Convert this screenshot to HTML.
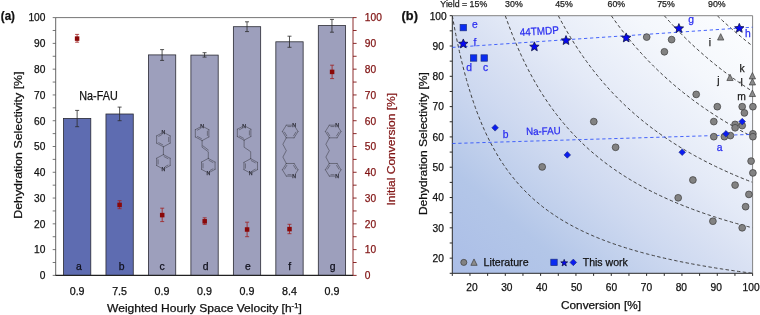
<!DOCTYPE html>
<html><head><meta charset="utf-8"><title>Figure</title>
<style>
html,body{margin:0;padding:0;background:#fff;}
body{width:760px;height:315px;overflow:hidden;}
svg{display:block;}
text{font-family:"Liberation Sans", Arial, sans-serif;stroke-width:0.25px;}
</style></head><body>
<svg width="760" height="315" viewBox="0 0 760 315">
<defs><linearGradient id="bg" x1="0" y1="1" x2="1" y2="0"><stop offset="0" stop-color="rgb(171,190,231)"/><stop offset="0.2" stop-color="rgb(179,198,232)"/><stop offset="0.3" stop-color="rgb(193,208,236)"/><stop offset="0.4" stop-color="rgb(206,217,240)"/><stop offset="0.5" stop-color="rgb(217,225,243)"/><stop offset="0.6" stop-color="rgb(228,234,247)"/><stop offset="0.8" stop-color="rgb(244,247,252)"/><stop offset="1.0" stop-color="rgb(253,254,255)"/></linearGradient></defs>
<rect width="760" height="315" fill="#fff"/>
<rect x="63.49" y="118.40" width="27.3" height="157.00" fill="#5e6cb1" stroke="#2a2a33" stroke-width="0.8"/>
<rect x="105.96" y="114.00" width="27.3" height="161.40" fill="#5e6cb1" stroke="#2a2a33" stroke-width="0.8"/>
<rect x="148.43" y="54.90" width="27.3" height="220.50" fill="#9d9fbc" stroke="#2a2a33" stroke-width="0.8"/>
<rect x="190.90" y="55.10" width="27.3" height="220.30" fill="#9d9fbc" stroke="#2a2a33" stroke-width="0.8"/>
<rect x="233.37" y="26.70" width="27.3" height="248.70" fill="#9d9fbc" stroke="#2a2a33" stroke-width="0.8"/>
<rect x="275.84" y="41.80" width="27.3" height="233.60" fill="#9d9fbc" stroke="#2a2a33" stroke-width="0.8"/>
<rect x="318.31" y="25.60" width="27.3" height="249.80" fill="#9d9fbc" stroke="#2a2a33" stroke-width="0.8"/>
<path d="M55.7 17.6H353.0" stroke="#666" stroke-width="0.9" fill="none"/>
<path d="M55.7 17.6V275.4" stroke="#555" stroke-width="0.9" fill="none"/>
<path d="M55.300000000000004 275.4H353.0" stroke="#222" stroke-width="1.1" fill="none"/>
<path d="M52.70 275.40H55.70M52.70 262.51H55.70M52.70 249.62H55.70M52.70 236.73H55.70M52.70 223.84H55.70M52.70 210.95H55.70M52.70 198.06H55.70M52.70 185.17H55.70M52.70 172.28H55.70M52.70 159.39H55.70M52.70 146.50H55.70M52.70 133.61H55.70M52.70 120.72H55.70M52.70 107.83H55.70M52.70 94.94H55.70M52.70 82.05H55.70M52.70 69.16H55.70M52.70 56.27H55.70M52.70 43.38H55.70M52.70 30.49H55.70M52.70 17.60H55.70" stroke="#555" stroke-width="0.8" fill="none"/>
<path d="M353.0 17.6V275.4M353.00 275.40h3.6M353.00 262.51h3.6M353.00 249.62h3.6M353.00 236.73h3.6M353.00 223.84h3.6M353.00 210.95h3.6M353.00 198.06h3.6M353.00 185.17h3.6M353.00 172.28h3.6M353.00 159.39h3.6M353.00 146.50h3.6M353.00 133.61h3.6M353.00 120.72h3.6M353.00 107.83h3.6M353.00 94.94h3.6M353.00 82.05h3.6M353.00 69.16h3.6M353.00 56.27h3.6M353.00 43.38h3.6M353.00 30.49h3.6M353.00 17.60h3.6" stroke="#801414" stroke-width="0.9" fill="none"/>
<path d="M77.14 110.40V126.70M75.14 110.40h4M75.14 126.70h4M119.61 107.10V120.70M117.61 107.10h4M117.61 120.70h4M162.08 49.60V60.40M160.08 49.60h4M160.08 60.40h4M204.55 52.70V57.10M202.55 52.70h4M202.55 57.10h4M247.02 21.80V31.60M245.02 21.80h4M245.02 31.60h4M289.49 36.20V47.30M287.49 36.20h4M287.49 47.30h4M331.96 19.40V32.20M329.96 19.40h4M329.96 32.20h4" stroke="#2b2b2b" stroke-width="0.8" fill="none"/>
<path d="M77.10 34.40V42.20M75.10 34.40h4M75.10 42.20h4M119.60 200.70V208.70M117.60 200.70h4M117.60 208.70h4M162.20 208.20V221.60M160.20 208.20h4M160.20 221.60h4M204.70 217.80V224.40M202.70 217.80h4M202.70 224.40h4M247.10 222.20V236.70M245.10 222.20h4M245.10 236.70h4M289.50 224.30V233.70M287.50 224.30h4M287.50 233.70h4M332.10 65.20V78.60M330.10 65.20h4M330.10 78.60h4" stroke="#a02020" stroke-width="0.8" fill="none"/>
<rect x="74.85" y="36.35" width="4.5" height="4.5" fill="#8a0808"/>
<rect x="117.35" y="202.65" width="4.5" height="4.5" fill="#8a0808"/>
<rect x="159.95" y="212.85" width="4.5" height="4.5" fill="#8a0808"/>
<rect x="202.45" y="219.05" width="4.5" height="4.5" fill="#8a0808"/>
<rect x="244.85" y="227.25" width="4.5" height="4.5" fill="#8a0808"/>
<rect x="287.25" y="226.85" width="4.5" height="4.5" fill="#8a0808"/>
<rect x="329.85" y="69.65" width="4.5" height="4.5" fill="#8a0808"/>
<text x="45.40" y="279.20" font-size="10.2" fill="#111" stroke="#111" text-anchor="end">0</text>
<text x="364.80" y="279.20" font-size="10.2" fill="#801414" stroke="#801414">0</text>
<text x="45.40" y="253.42" font-size="10.2" fill="#111" stroke="#111" text-anchor="end">10</text>
<text x="364.80" y="253.42" font-size="10.2" fill="#801414" stroke="#801414">10</text>
<text x="45.40" y="227.64" font-size="10.2" fill="#111" stroke="#111" text-anchor="end">20</text>
<text x="364.80" y="227.64" font-size="10.2" fill="#801414" stroke="#801414">20</text>
<text x="45.40" y="201.86" font-size="10.2" fill="#111" stroke="#111" text-anchor="end">30</text>
<text x="364.80" y="201.86" font-size="10.2" fill="#801414" stroke="#801414">30</text>
<text x="45.40" y="176.08" font-size="10.2" fill="#111" stroke="#111" text-anchor="end">40</text>
<text x="364.80" y="176.08" font-size="10.2" fill="#801414" stroke="#801414">40</text>
<text x="45.40" y="150.30" font-size="10.2" fill="#111" stroke="#111" text-anchor="end">50</text>
<text x="364.80" y="150.30" font-size="10.2" fill="#801414" stroke="#801414">50</text>
<text x="45.40" y="124.52" font-size="10.2" fill="#111" stroke="#111" text-anchor="end">60</text>
<text x="364.80" y="124.52" font-size="10.2" fill="#801414" stroke="#801414">60</text>
<text x="45.40" y="98.74" font-size="10.2" fill="#111" stroke="#111" text-anchor="end">70</text>
<text x="364.80" y="98.74" font-size="10.2" fill="#801414" stroke="#801414">70</text>
<text x="45.40" y="72.96" font-size="10.2" fill="#111" stroke="#111" text-anchor="end">80</text>
<text x="364.80" y="72.96" font-size="10.2" fill="#801414" stroke="#801414">80</text>
<text x="45.40" y="47.18" font-size="10.2" fill="#111" stroke="#111" text-anchor="end">90</text>
<text x="364.80" y="47.18" font-size="10.2" fill="#801414" stroke="#801414">90</text>
<text x="45.40" y="21.40" font-size="10.2" fill="#111" stroke="#111" text-anchor="end">100</text>
<text x="364.80" y="21.40" font-size="10.2" fill="#801414" stroke="#801414">100</text>
<text x="79.00" y="269.80" font-size="10.4" fill="#10101c" stroke="#10101c" text-anchor="middle">a</text>
<text x="121.70" y="269.80" font-size="10.4" fill="#10101c" stroke="#10101c" text-anchor="middle">b</text>
<text x="162.00" y="269.80" font-size="10.4" fill="#10101c" stroke="#10101c" text-anchor="middle">c</text>
<text x="205.70" y="269.80" font-size="10.4" fill="#10101c" stroke="#10101c" text-anchor="middle">d</text>
<text x="247.90" y="269.80" font-size="10.4" fill="#10101c" stroke="#10101c" text-anchor="middle">e</text>
<text x="289.60" y="269.80" font-size="10.4" fill="#10101c" stroke="#10101c" text-anchor="middle">f</text>
<text x="332.70" y="269.80" font-size="10.4" fill="#10101c" stroke="#10101c" text-anchor="middle">g</text>
<text x="77.14" y="294.60" font-size="10.1" fill="#111" stroke="#111" text-anchor="middle" textLength="14.90" lengthAdjust="spacingAndGlyphs">0.9</text>
<text x="119.61" y="294.60" font-size="10.1" fill="#111" stroke="#111" text-anchor="middle" textLength="14.90" lengthAdjust="spacingAndGlyphs">7.5</text>
<text x="162.08" y="294.60" font-size="10.1" fill="#111" stroke="#111" text-anchor="middle" textLength="14.90" lengthAdjust="spacingAndGlyphs">0.9</text>
<text x="204.55" y="294.60" font-size="10.1" fill="#111" stroke="#111" text-anchor="middle" textLength="14.90" lengthAdjust="spacingAndGlyphs">0.9</text>
<text x="247.02" y="294.60" font-size="10.1" fill="#111" stroke="#111" text-anchor="middle" textLength="14.90" lengthAdjust="spacingAndGlyphs">0.9</text>
<text x="289.49" y="294.60" font-size="10.1" fill="#111" stroke="#111" text-anchor="middle" textLength="14.90" lengthAdjust="spacingAndGlyphs">8.4</text>
<text x="331.96" y="294.60" font-size="10.1" fill="#111" stroke="#111" text-anchor="middle" textLength="14.90" lengthAdjust="spacingAndGlyphs">0.9</text>
<text x="107.1" y="312.1" font-size="11" fill="#111" stroke="#111" textLength="194.7" lengthAdjust="spacingAndGlyphs">Weighted Hourly Space Velocity [h<tspan font-size="7" dy="-4">-1</tspan><tspan dy="4">]</tspan></text>
<text x="22.20" y="218.80" font-size="10.9" fill="#111" stroke="#111" textLength="147.40" lengthAdjust="spacingAndGlyphs" transform="rotate(-90 22.20 218.80)">Dehydration Selectivity [%]</text>
<text x="394.60" y="205.60" font-size="10.8" fill="#801414" stroke="#801414" textLength="112.70" lengthAdjust="spacingAndGlyphs" transform="rotate(-90 394.60 205.60)">Initial Conversion [%]</text>
<text x="0.80" y="20.20" font-size="12.4" fill="#111" stroke="#111" font-weight="bold" textLength="14.20" lengthAdjust="spacingAndGlyphs">(a)</text>
<text x="79.30" y="100.00" font-size="12.0" fill="#111" stroke="#111" textLength="38.40" lengthAdjust="spacingAndGlyphs">Na-FAU</text>
<path d="M165.56 133.37L170.16 135.85M170.16 135.85L170.16 143.15M168.68 137.34L168.68 141.66M170.16 143.15L163.40 146.80M163.40 146.80L156.64 143.15M162.77 144.85L158.76 142.69M156.64 143.15L156.64 135.85M156.64 135.85L161.24 133.37M158.76 136.31L161.55 134.80M161.24 168.03L156.64 165.55M156.64 165.55L156.64 158.25M158.12 164.06L158.12 159.74M156.64 158.25L163.40 154.60M163.40 154.60L170.16 158.25M164.03 156.55L168.04 158.71M170.16 158.25L170.16 165.55M170.16 165.55L165.56 168.03M168.04 165.09L165.25 166.60M163.40 146.80L163.40 154.60" stroke="#3c3c46" stroke-width="0.55" fill="none" stroke-linecap="round"/>
<text x="163.40" y="134.10" font-size="5.2" fill="#2a2a33" stroke="#2a2a33" text-anchor="middle" stroke-width="0">N</text>
<text x="163.40" y="171.10" font-size="5.2" fill="#2a2a33" stroke="#2a2a33" text-anchor="middle" stroke-width="0">N</text>
<path d="M204.26 127.17L208.86 129.65M208.86 129.65L208.86 136.95M207.38 131.14L207.38 135.46M208.86 136.95L202.10 140.60M202.10 140.60L195.34 136.95M201.47 138.65L197.46 136.49M195.34 136.95L195.34 129.65M195.34 129.65L199.94 127.17M197.46 130.11L200.25 128.60M206.14 171.83L201.54 169.35M201.54 169.35L201.54 162.05M203.02 167.86L203.02 163.54M201.54 162.05L208.30 158.40M208.30 158.40L215.06 162.05M208.93 160.35L212.94 162.51M215.06 162.05L215.06 169.35M215.06 169.35L210.46 171.83M212.94 168.89L210.15 170.40M202.10 140.60L202.10 147.20L208.30 151.80L208.30 158.40M202.90 145.80L208.30 150.00" stroke="#3c3c46" stroke-width="0.55" fill="none" stroke-linecap="round"/>
<text x="202.10" y="127.90" font-size="5.2" fill="#2a2a33" stroke="#2a2a33" text-anchor="middle" stroke-width="0">N</text>
<text x="208.30" y="174.90" font-size="5.2" fill="#2a2a33" stroke="#2a2a33" text-anchor="middle" stroke-width="0">N</text>
<path d="M246.26 126.77L250.86 129.25M250.86 129.25L250.86 136.55M249.38 130.74L249.38 135.06M250.86 136.55L244.10 140.20M244.10 140.20L237.34 136.55M243.47 138.25L239.46 136.09M237.34 136.55L237.34 129.25M237.34 129.25L241.94 126.77M239.46 129.71L242.25 128.20M248.54 172.13L243.94 169.65M243.94 169.65L243.94 162.35M245.42 168.16L245.42 163.84M243.94 162.35L250.70 158.70M250.70 158.70L257.46 162.35M251.33 160.65L255.34 162.81M257.46 162.35L257.46 169.65M257.46 169.65L252.86 172.13M255.34 169.19L252.55 170.70M244.10 140.20L244.10 147.20L250.70 151.70L250.70 158.70" stroke="#3c3c46" stroke-width="0.55" fill="none" stroke-linecap="round"/>
<text x="244.10" y="127.50" font-size="5.2" fill="#2a2a33" stroke="#2a2a33" text-anchor="middle" stroke-width="0">N</text>
<text x="250.70" y="175.20" font-size="5.2" fill="#2a2a33" stroke="#2a2a33" text-anchor="middle" stroke-width="0">N</text>
<path d="M298.01 131.50L294.11 137.82M295.93 132.09L293.61 135.84M294.11 137.82L286.29 137.82M286.29 137.82L282.39 131.50M286.79 135.84L284.47 132.09M282.39 131.50L286.29 125.18M286.29 125.18L291.61 125.18M287.88 126.57L291.11 126.57M295.36 127.20L298.01 131.50M298.01 169.80L295.36 174.10M291.61 176.12L286.29 176.12M291.11 174.73L287.88 174.73M286.29 176.12L282.39 169.80M282.39 169.80L286.29 163.48M284.47 169.21L286.79 165.46M286.29 163.48L294.11 163.48M294.11 163.48L298.01 169.80M293.61 165.46L295.93 169.21M286.29 137.82L282.89 144.24L286.29 150.65L282.89 157.06L286.29 163.48" stroke="#3c3c46" stroke-width="0.55" fill="none" stroke-linecap="round"/>
<text x="294.11" y="127.08" font-size="5.2" fill="#2a2a33" stroke="#2a2a33" text-anchor="middle" stroke-width="0">N</text>
<text x="294.11" y="178.02" font-size="5.2" fill="#2a2a33" stroke="#2a2a33" text-anchor="middle" stroke-width="0">N</text>
<path d="M341.01 131.50L337.11 137.82M338.93 132.09L336.61 135.84M337.11 137.82L329.29 137.82M329.29 137.82L325.39 131.50M329.79 135.84L327.47 132.09M325.39 131.50L329.29 125.18M329.29 125.18L334.61 125.18M330.88 126.57L334.11 126.57M338.36 127.20L341.01 131.50M341.01 169.80L338.36 174.10M334.61 176.12L329.29 176.12M334.11 174.73L330.88 174.73M329.29 176.12L325.39 169.80M325.39 169.80L329.29 163.48M327.47 169.21L329.79 165.46M329.29 163.48L337.11 163.48M337.11 163.48L341.01 169.80M336.61 165.46L338.93 169.21M329.29 137.82L325.89 144.24L329.29 150.65L325.89 157.06L329.29 163.48" stroke="#3c3c46" stroke-width="0.55" fill="none" stroke-linecap="round"/>
<text x="337.11" y="127.08" font-size="5.2" fill="#2a2a33" stroke="#2a2a33" text-anchor="middle" stroke-width="0">N</text>
<text x="337.11" y="178.02" font-size="5.2" fill="#2a2a33" stroke="#2a2a33" text-anchor="middle" stroke-width="0">N</text>
<rect x="452.3" y="15.7" width="300.30" height="257.60" fill="url(#bg)"/>
<clipPath id="cp"><rect x="452.3" y="15.7" width="300.30" height="257.60"/></clipPath>
<path d="M452.30 15.70L454.07 25.48L455.83 34.64L457.60 43.25L459.37 51.35L461.13 58.99L462.90 66.21L464.67 73.04L466.43 79.50L468.20 85.64L469.96 91.46L471.73 97.01L473.50 102.29L475.26 107.32L477.03 112.13L478.80 116.72L480.56 121.11L482.33 125.32L484.10 129.35L485.86 133.21L487.63 136.92L489.40 140.49L491.16 143.92L492.93 147.22L494.70 150.39L496.46 153.45L498.23 156.41L499.99 159.25L501.76 162.00L503.53 164.66L505.29 167.23L507.06 169.71L508.83 172.12L510.59 174.45L512.36 176.70L514.13 178.89L515.89 181.00L517.66 183.06L519.43 185.06L521.19 186.99L522.96 188.88L524.73 190.71L526.49 192.48L528.26 194.21L530.02 195.90L531.79 197.54L533.56 199.13L535.32 200.68L537.09 202.20L538.86 203.67L540.62 205.11L542.39 206.51L544.16 207.88L545.92 209.22L547.69 210.52L549.46 211.80L551.22 213.04L552.99 214.26L554.76 215.44L556.52 216.60L558.29 217.74L560.05 218.85L561.82 219.94L563.59 221.00L565.35 222.04L567.12 223.06L568.89 224.05L570.65 225.03L572.42 225.99L574.19 226.92L575.95 227.84L577.72 228.74L579.49 229.62L581.25 230.49L583.02 231.34L584.79 232.17L586.55 232.99L588.32 233.79L590.08 234.58L591.85 235.35L593.62 236.11L595.38 236.85L597.15 237.58L598.92 238.30L600.68 239.01L602.45 239.70L604.22 240.38L605.98 241.05L607.75 241.71L609.52 242.36L611.28 242.99L613.05 243.62L614.82 244.24L616.58 244.84L618.35 245.44L620.11 246.02L621.88 246.60L623.65 247.17L625.41 247.73L627.18 248.28L628.95 248.82L630.71 249.36L632.48 249.88L634.25 250.40L636.01 250.91L637.78 251.41L639.55 251.91L641.31 252.40L643.08 252.88L644.85 253.35L646.61 253.82L648.38 254.28L650.14 254.73L651.91 255.18L653.68 255.62L655.44 256.06L657.21 256.49L658.98 256.91L660.74 257.33L662.51 257.74L664.28 258.15L666.04 258.55L667.81 258.94L669.58 259.34L671.34 259.72L673.11 260.10L674.88 260.48L676.64 260.85L678.41 261.22L680.17 261.58L681.94 261.94L683.71 262.29L685.47 262.64L687.24 262.98L689.01 263.32L690.77 263.66L692.54 263.99L694.31 264.32L696.07 264.64L697.84 264.96L699.61 265.28L701.37 265.59L703.14 265.90L704.91 266.21L706.67 266.51L708.44 266.81L710.20 267.10L711.97 267.39L713.74 267.68L715.50 267.97L717.27 268.25L719.04 268.53L720.80 268.80L722.57 269.08L724.34 269.35L726.10 269.61L727.87 269.88L729.64 270.14L731.40 270.40L733.17 270.65L734.94 270.91L736.70 271.16L738.47 271.41L740.23 271.65L742.00 271.89L743.77 272.13L745.53 272.37L747.30 272.61L749.07 272.84L750.83 273.07L752.60 273.30" stroke="#3e3e3e" stroke-width="1" stroke-dasharray="3.4 2.4" fill="none" clip-path="url(#cp)"/>
<path d="M505.29 15.70L507.06 20.67L508.83 25.48L510.59 30.13L512.36 34.64L514.13 39.01L515.89 43.25L517.66 47.36L519.43 51.35L521.19 55.23L522.96 58.99L524.73 62.65L526.49 66.21L528.26 69.67L530.02 73.04L531.79 76.31L533.56 79.50L535.32 82.61L537.09 85.64L538.86 88.59L540.62 91.46L542.39 94.27L544.16 97.01L545.92 99.68L547.69 102.29L549.46 104.83L551.22 107.32L552.99 109.75L554.76 112.13L556.52 114.45L558.29 116.72L560.05 118.94L561.82 121.11L563.59 123.24L565.35 125.32L567.12 127.35L568.89 129.35L570.65 131.30L572.42 133.21L574.19 135.09L575.95 136.92L577.72 138.72L579.49 140.49L581.25 142.22L583.02 143.92L584.79 145.58L586.55 147.22L588.32 148.82L590.08 150.39L591.85 151.94L593.62 153.45L595.38 154.94L597.15 156.41L598.92 157.84L600.68 159.25L602.45 160.64L604.22 162.00L605.98 163.34L607.75 164.66L609.52 165.96L611.28 167.23L613.05 168.48L614.82 169.71L616.58 170.93L618.35 172.12L620.11 173.29L621.88 174.45L623.65 175.58L625.41 176.70L627.18 177.80L628.95 178.89L630.71 179.95L632.48 181.00L634.25 182.04L636.01 183.06L637.78 184.07L639.55 185.06L641.31 186.03L643.08 186.99L644.85 187.94L646.61 188.88L648.38 189.80L650.14 190.71L651.91 191.60L653.68 192.48L655.44 193.36L657.21 194.21L658.98 195.06L660.74 195.90L662.51 196.72L664.28 197.54L666.04 198.34L667.81 199.13L669.58 199.91L671.34 200.68L673.11 201.45L674.88 202.20L676.64 202.94L678.41 203.67L680.17 204.40L681.94 205.11L683.71 205.82L685.47 206.51L687.24 207.20L689.01 207.88L690.77 208.56L692.54 209.22L694.31 209.88L696.07 210.52L697.84 211.16L699.61 211.80L701.37 212.42L703.14 213.04L704.91 213.65L706.67 214.26L708.44 214.85L710.20 215.44L711.97 216.03L713.74 216.60L715.50 217.17L717.27 217.74L719.04 218.30L720.80 218.85L722.57 219.40L724.34 219.94L726.10 220.47L727.87 221.00L729.64 221.52L731.40 222.04L733.17 222.55L734.94 223.06L736.70 223.56L738.47 224.05L740.23 224.54L742.00 225.03L743.77 225.51L745.53 225.99L747.30 226.46L749.07 226.92L750.83 227.38L752.60 227.84" stroke="#3e3e3e" stroke-width="1" stroke-dasharray="3.4 2.4" fill="none" clip-path="url(#cp)"/>
<path d="M558.29 15.70L560.05 19.03L561.82 22.29L563.59 25.48L565.35 28.60L567.12 31.65L568.89 34.64L570.65 37.57L572.42 40.44L574.19 43.25L575.95 46.01L577.72 48.71L579.49 51.35L581.25 53.95L583.02 56.50L584.79 58.99L586.55 61.44L588.32 63.85L590.08 66.21L591.85 68.53L593.62 70.80L595.38 73.04L597.15 75.23L598.92 77.38L600.68 79.50L602.45 81.58L604.22 83.63L605.98 85.64L607.75 87.61L609.52 89.55L611.28 91.46L613.05 93.34L614.82 95.19L616.58 97.01L618.35 98.80L620.11 100.56L621.88 102.29L623.65 103.99L625.41 105.67L627.18 107.32L628.95 108.95L630.71 110.55L632.48 112.13L634.25 113.68L636.01 115.21L637.78 116.72L639.55 118.21L641.31 119.67L643.08 121.11L644.85 122.53L646.61 123.94L648.38 125.32L650.14 126.68L651.91 128.02L653.68 129.35L655.44 130.65L657.21 131.94L658.98 133.21L660.74 134.47L662.51 135.70L664.28 136.92L666.04 138.13L667.81 139.32L669.58 140.49L671.34 141.65L673.11 142.79L674.88 143.92L676.64 145.03L678.41 146.13L680.17 147.22L681.94 148.29L683.71 149.35L685.47 150.39L687.24 151.43L689.01 152.45L690.77 153.45L692.54 154.45L694.31 155.43L696.07 156.41L697.84 157.37L699.61 158.32L701.37 159.25L703.14 160.18L704.91 161.10L706.67 162.00L708.44 162.90L710.20 163.79L711.97 164.66L713.74 165.53L715.50 166.38L717.27 167.23L719.04 168.07L720.80 168.89L722.57 169.71L724.34 170.52L726.10 171.32L727.87 172.12L729.64 172.90L731.40 173.68L733.17 174.45L734.94 175.20L736.70 175.96L738.47 176.70L740.23 177.44L742.00 178.16L743.77 178.89L745.53 179.60L747.30 180.31L749.07 181.00L750.83 181.70L752.60 182.38" stroke="#3e3e3e" stroke-width="1" stroke-dasharray="3.4 2.4" fill="none" clip-path="url(#cp)"/>
<path d="M611.28 15.70L613.05 18.20L614.82 20.67L616.58 23.09L618.35 25.48L620.11 27.82L621.88 30.13L623.65 32.40L625.41 34.64L627.18 36.84L628.95 39.01L630.71 41.15L632.48 43.25L634.25 45.32L636.01 47.36L637.78 49.37L639.55 51.35L641.31 53.31L643.08 55.23L644.85 57.13L646.61 58.99L648.38 60.84L650.14 62.65L651.91 64.44L653.68 66.21L655.44 67.95L657.21 69.67L658.98 71.36L660.74 73.04L662.51 74.68L664.28 76.31L666.04 77.92L667.81 79.50L669.58 81.07L671.34 82.61L673.11 84.13L674.88 85.64L676.64 87.12L678.41 88.59L680.17 90.04L681.94 91.46L683.71 92.88L685.47 94.27L687.24 95.65L689.01 97.01L690.77 98.35L692.54 99.68L694.31 100.99L696.07 102.29L697.84 103.57L699.61 104.83L701.37 106.09L703.14 107.32L704.91 108.54L706.67 109.75L708.44 110.95L710.20 112.13L711.97 113.30L713.74 114.45L715.50 115.59L717.27 116.72L719.04 117.84L720.80 118.94L722.57 120.03L724.34 121.11L726.10 122.18L727.87 123.24L729.64 124.28L731.40 125.32L733.17 126.34L734.94 127.35L736.70 128.36L738.47 129.35L740.23 130.33L742.00 131.30L743.77 132.26L745.53 133.21L747.30 134.15L749.07 135.09L750.83 136.01L752.60 136.92" stroke="#3e3e3e" stroke-width="1" stroke-dasharray="3.4 2.4" fill="none" clip-path="url(#cp)"/>
<path d="M664.28 15.70L666.04 17.71L667.81 19.69L669.58 21.64L671.34 23.57L673.11 25.48L674.88 27.36L676.64 29.21L678.41 31.04L680.17 32.85L681.94 34.64L683.71 36.41L685.47 38.15L687.24 39.87L689.01 41.57L690.77 43.25L692.54 44.91L694.31 46.55L696.07 48.17L697.84 49.77L699.61 51.35L701.37 52.92L703.14 54.46L704.91 55.99L706.67 57.50L708.44 58.99L710.20 60.47L711.97 61.93L713.74 63.37L715.50 64.80L717.27 66.21L719.04 67.61L720.80 68.99L722.57 70.35L724.34 71.70L726.10 73.04L727.87 74.36L729.64 75.66L731.40 76.96L733.17 78.24L734.94 79.50L736.70 80.75L738.47 81.99L740.23 83.22L742.00 84.43L743.77 85.64L745.53 86.83L747.30 88.00L749.07 89.17L750.83 90.32L752.60 91.46" stroke="#3e3e3e" stroke-width="1" stroke-dasharray="3.4 2.4" fill="none" clip-path="url(#cp)"/>
<path d="M717.27 15.70L719.04 17.37L720.80 19.03L722.57 20.67L724.34 22.29L726.10 23.89L727.87 25.48L729.64 27.04L731.40 28.60L733.17 30.13L734.94 31.65L736.70 33.15L738.47 34.64L740.23 36.11L742.00 37.57L743.77 39.01L745.53 40.44L747.30 41.85L749.07 43.25L750.83 44.64L752.60 46.01" stroke="#3e3e3e" stroke-width="1" stroke-dasharray="3.4 2.4" fill="none" clip-path="url(#cp)"/>
<path d="M452.3 15.7H752.6V273.3" stroke="#777" stroke-width="0.9" fill="none"/>
<path d="M452.3 15.7V273.3H752.6M452.30 273.3v2.6M469.96 273.3v2.6M487.63 273.3v2.6M505.29 273.3v2.6M522.96 273.3v2.6M540.62 273.3v2.6M558.29 273.3v2.6M575.95 273.3v2.6M593.62 273.3v2.6M611.28 273.3v2.6M628.95 273.3v2.6M646.61 273.3v2.6M664.28 273.3v2.6M681.94 273.3v2.6M699.61 273.3v2.6M717.27 273.3v2.6M734.94 273.3v2.6M752.60 273.3v2.6M452.3 273.30h-2.6M452.3 258.15h-2.6M452.3 242.99h-2.6M452.3 227.84h-2.6M452.3 212.69h-2.6M452.3 197.54h-2.6M452.3 182.38h-2.6M452.3 167.23h-2.6M452.3 152.08h-2.6M452.3 136.92h-2.6M452.3 121.77h-2.6M452.3 106.62h-2.6M452.3 91.46h-2.6M452.3 76.31h-2.6M452.3 61.16h-2.6M452.3 46.01h-2.6M452.3 30.85h-2.6M452.3 15.70h-2.6" stroke="#2a2a2a" stroke-width="1" fill="none"/>
<path d="M452.3 47.4L752.6 27.2" stroke="#3355fa" stroke-width="0.9" stroke-dasharray="3.3 2.7" fill="none"/>
<path d="M452.3 143.5L752.6 134.4" stroke="#3355fa" stroke-width="0.9" stroke-dasharray="3.3 2.7" fill="none"/>
<circle cx="646.7" cy="37.1" r="3.4" fill="#828282" stroke="#3c3c3c" stroke-width="0.7"/>
<circle cx="671.6" cy="39.6" r="3.4" fill="#828282" stroke="#3c3c3c" stroke-width="0.7"/>
<circle cx="664.4" cy="51.8" r="3.4" fill="#828282" stroke="#3c3c3c" stroke-width="0.7"/>
<circle cx="696.2" cy="94.4" r="3.4" fill="#828282" stroke="#3c3c3c" stroke-width="0.7"/>
<circle cx="717.3" cy="106.7" r="3.4" fill="#828282" stroke="#3c3c3c" stroke-width="0.7"/>
<circle cx="742.2" cy="106.7" r="3.4" fill="#828282" stroke="#3c3c3c" stroke-width="0.7"/>
<circle cx="752.9" cy="106.7" r="3.4" fill="#828282" stroke="#3c3c3c" stroke-width="0.7"/>
<circle cx="744.4" cy="112.9" r="3.4" fill="#828282" stroke="#3c3c3c" stroke-width="0.7"/>
<circle cx="713.8" cy="121.6" r="3.4" fill="#828282" stroke="#3c3c3c" stroke-width="0.7"/>
<circle cx="735.1" cy="124.4" r="3.4" fill="#828282" stroke="#3c3c3c" stroke-width="0.7"/>
<circle cx="735.1" cy="127.8" r="3.4" fill="#828282" stroke="#3c3c3c" stroke-width="0.7"/>
<circle cx="742.2" cy="125.6" r="3.4" fill="#828282" stroke="#3c3c3c" stroke-width="0.7"/>
<circle cx="713.8" cy="136.7" r="3.4" fill="#828282" stroke="#3c3c3c" stroke-width="0.7"/>
<circle cx="724.4" cy="136.7" r="3.4" fill="#828282" stroke="#3c3c3c" stroke-width="0.7"/>
<circle cx="730.4" cy="135.6" r="3.4" fill="#828282" stroke="#3c3c3c" stroke-width="0.7"/>
<circle cx="752.9" cy="133.8" r="3.4" fill="#828282" stroke="#3c3c3c" stroke-width="0.7"/>
<circle cx="752.9" cy="136.7" r="3.4" fill="#828282" stroke="#3c3c3c" stroke-width="0.7"/>
<circle cx="751.1" cy="161.1" r="3.4" fill="#828282" stroke="#3c3c3c" stroke-width="0.7"/>
<circle cx="615.6" cy="147.3" r="3.4" fill="#828282" stroke="#3c3c3c" stroke-width="0.7"/>
<circle cx="593.8" cy="121.6" r="3.4" fill="#828282" stroke="#3c3c3c" stroke-width="0.7"/>
<circle cx="542.2" cy="166.9" r="3.4" fill="#828282" stroke="#3c3c3c" stroke-width="0.7"/>
<circle cx="752.9" cy="172.9" r="3.4" fill="#828282" stroke="#3c3c3c" stroke-width="0.7"/>
<circle cx="692.9" cy="180" r="3.4" fill="#828282" stroke="#3c3c3c" stroke-width="0.7"/>
<circle cx="735.1" cy="185.1" r="3.4" fill="#828282" stroke="#3c3c3c" stroke-width="0.7"/>
<circle cx="748.9" cy="194.4" r="3.4" fill="#828282" stroke="#3c3c3c" stroke-width="0.7"/>
<circle cx="678.2" cy="197.8" r="3.4" fill="#828282" stroke="#3c3c3c" stroke-width="0.7"/>
<circle cx="745.6" cy="206.7" r="3.4" fill="#828282" stroke="#3c3c3c" stroke-width="0.7"/>
<circle cx="712.9" cy="221.2" r="3.4" fill="#828282" stroke="#3c3c3c" stroke-width="0.7"/>
<circle cx="742.2" cy="227.8" r="3.4" fill="#828282" stroke="#3c3c3c" stroke-width="0.7"/>
<circle cx="463.8" cy="262.4" r="3.05" fill="#828282" stroke="#3c3c3c" stroke-width="0.7"/>
<path d="M720.70 33.65L723.84 40.04L717.56 40.04Z" fill="#8c8c8c" stroke="#3c3c3c" stroke-width="0.7"/>
<path d="M730.00 74.15L733.14 80.54L726.86 80.54Z" fill="#8c8c8c" stroke="#3c3c3c" stroke-width="0.7"/>
<path d="M752.40 72.55L755.54 78.94L749.26 78.94Z" fill="#8c8c8c" stroke="#3c3c3c" stroke-width="0.7"/>
<path d="M752.40 78.55L755.54 84.94L749.26 84.94Z" fill="#8c8c8c" stroke="#3c3c3c" stroke-width="0.7"/>
<path d="M752.40 90.15L755.54 96.54L749.26 96.54Z" fill="#8c8c8c" stroke="#3c3c3c" stroke-width="0.7"/>
<path d="M474.00 258.95L477.14 265.34L470.86 265.34Z" fill="#8c8c8c" stroke="#3c3c3c" stroke-width="0.7"/>
<path d="M495.10 124.50L498.40 127.80L495.10 131.10L491.80 127.80Z" fill="#0a1cf0" stroke="#1c2a7a" stroke-width="0.6"/>
<path d="M567.30 151.60L570.60 154.90L567.30 158.20L564.00 154.90Z" fill="#0a1cf0" stroke="#1c2a7a" stroke-width="0.6"/>
<path d="M682.20 148.90L685.50 152.20L682.20 155.50L678.90 152.20Z" fill="#0a1cf0" stroke="#1c2a7a" stroke-width="0.6"/>
<path d="M742.20 118.30L745.50 121.60L742.20 124.90L738.90 121.60Z" fill="#0a1cf0" stroke="#1c2a7a" stroke-width="0.6"/>
<path d="M726.00 130.50L729.30 133.80L726.00 137.10L722.70 133.80Z" fill="#0a1cf0" stroke="#1c2a7a" stroke-width="0.6"/>
<path d="M573.30 259.10L576.60 262.40L573.30 265.70L570.00 262.40Z" fill="#0a1cf0" stroke="#1c2a7a" stroke-width="0.6"/>
<rect x="460.10" y="24.40" width="6.4" height="6.4" fill="#0a2cf2" stroke="#1c2f86" stroke-width="0.7"/>
<rect x="470.40" y="54.80" width="6.4" height="6.4" fill="#0a2cf2" stroke="#1c2f86" stroke-width="0.7"/>
<rect x="481.00" y="54.80" width="6.4" height="6.4" fill="#0a2cf2" stroke="#1c2f86" stroke-width="0.7"/>
<rect x="550.80" y="259.20" width="6.4" height="6.4" fill="#0a2cf2" stroke="#1c2f86" stroke-width="0.7"/>
<path d="M463.30 38.95L464.62 42.08L468.01 42.37L465.44 44.60L466.21 47.90L463.30 46.15L460.39 47.90L461.16 44.60L458.59 42.37L461.98 42.08Z" fill="#0608f2" stroke="#0c1040" stroke-width="0.75" stroke-linejoin="miter"/>
<path d="M534.40 41.85L535.72 44.98L539.11 45.27L536.54 47.50L537.31 50.80L534.40 49.05L531.49 50.80L532.26 47.50L529.69 45.27L533.08 44.98Z" fill="#0608f2" stroke="#0c1040" stroke-width="0.75" stroke-linejoin="miter"/>
<path d="M566.00 35.55L567.32 38.68L570.71 38.97L568.14 41.20L568.91 44.50L566.00 42.75L563.09 44.50L563.86 41.20L561.29 38.97L564.68 38.68Z" fill="#0608f2" stroke="#0c1040" stroke-width="0.75" stroke-linejoin="miter"/>
<path d="M626.20 32.95L627.52 36.08L630.91 36.37L628.34 38.60L629.11 41.90L626.20 40.15L623.29 41.90L624.06 38.60L621.49 36.37L624.88 36.08Z" fill="#0608f2" stroke="#0c1040" stroke-width="0.75" stroke-linejoin="miter"/>
<path d="M678.90 23.55L680.22 26.68L683.61 26.97L681.04 29.20L681.81 32.50L678.90 30.75L675.99 32.50L676.76 29.20L674.19 26.97L677.58 26.68Z" fill="#0608f2" stroke="#0c1040" stroke-width="0.75" stroke-linejoin="miter"/>
<path d="M739.30 23.35L740.62 26.48L744.01 26.77L741.44 29.00L742.21 32.30L739.30 30.55L736.39 32.30L737.16 29.00L734.59 26.77L737.98 26.48Z" fill="#0608f2" stroke="#0c1040" stroke-width="0.75" stroke-linejoin="miter"/>
<path d="M564.20 259.40L565.08 261.79L567.62 261.89L565.63 263.46L566.32 265.91L564.20 264.50L562.08 265.91L562.77 263.46L560.78 261.89L563.32 261.79Z" fill="#0608f2" stroke="#0c1040" stroke-width="0.75" stroke-linejoin="miter"/>
<text x="474.90" y="28.40" font-size="10.3" fill="#2a2df0" stroke="#2a2df0" text-anchor="middle">e</text>
<text x="474.90" y="45.90" font-size="10.3" fill="#2a2df0" stroke="#2a2df0" text-anchor="middle">f</text>
<text x="469.10" y="71.00" font-size="10.3" fill="#2a2df0" stroke="#2a2df0" text-anchor="middle">d</text>
<text x="485.60" y="71.00" font-size="10.3" fill="#2a2df0" stroke="#2a2df0" text-anchor="middle">c</text>
<text x="691.10" y="23.20" font-size="10.3" fill="#2a2df0" stroke="#2a2df0" text-anchor="middle">g</text>
<text x="747.80" y="36.80" font-size="10.3" fill="#2a2df0" stroke="#2a2df0" text-anchor="middle">h</text>
<text x="505.60" y="137.80" font-size="10.3" fill="#2a2df0" stroke="#2a2df0" text-anchor="middle">b</text>
<text x="719.60" y="150.90" font-size="10.3" fill="#2a2df0" stroke="#2a2df0" text-anchor="middle">a</text>
<text x="709.80" y="45.80" font-size="10.3" fill="#1c1c1c" stroke="#1c1c1c" text-anchor="middle">i</text>
<text x="742.20" y="71.50" font-size="10.3" fill="#1c1c1c" stroke="#1c1c1c" text-anchor="middle">k</text>
<text x="718.40" y="83.70" font-size="10.3" fill="#1c1c1c" stroke="#1c1c1c" text-anchor="middle">j</text>
<text x="741.60" y="86.20" font-size="10.3" fill="#1c1c1c" stroke="#1c1c1c" text-anchor="middle">l</text>
<text x="741.60" y="99.50" font-size="10.3" fill="#1c1c1c" stroke="#1c1c1c" text-anchor="middle">m</text>
<path d="M739.4 82.2H741.2" stroke="#222" stroke-width="0.8"/>
<text x="539.3" y="34.8" font-size="10.8" fill="#2a2df0" stroke="#2a2df0" text-anchor="middle" textLength="39" lengthAdjust="spacingAndGlyphs" transform="rotate(-3.5 539.3 31.1)">44TMDP</text>
<text x="543.3" y="134.6" font-size="10.4" fill="#2a2df0" stroke="#2a2df0" text-anchor="middle" textLength="34.5" lengthAdjust="spacingAndGlyphs" transform="rotate(-1.7 543.3 131.1)">Na-FAU</text>
<text x="438.20" y="261.95" font-size="10.2" fill="#111" stroke="#111" text-anchor="middle">20</text>
<text x="438.20" y="231.64" font-size="10.2" fill="#111" stroke="#111" text-anchor="middle">30</text>
<text x="438.20" y="201.34" font-size="10.2" fill="#111" stroke="#111" text-anchor="middle">40</text>
<text x="438.20" y="171.03" font-size="10.2" fill="#111" stroke="#111" text-anchor="middle">50</text>
<text x="438.20" y="140.72" font-size="10.2" fill="#111" stroke="#111" text-anchor="middle">60</text>
<text x="438.20" y="110.42" font-size="10.2" fill="#111" stroke="#111" text-anchor="middle">70</text>
<text x="438.20" y="80.11" font-size="10.2" fill="#111" stroke="#111" text-anchor="middle">80</text>
<text x="438.20" y="49.81" font-size="10.2" fill="#111" stroke="#111" text-anchor="middle">90</text>
<text x="438.20" y="19.50" font-size="10.2" fill="#111" stroke="#111" text-anchor="middle">100</text>
<text x="471.90" y="290.60" font-size="10.2" fill="#111" stroke="#111" text-anchor="middle">20</text>
<text x="506.80" y="290.60" font-size="10.2" fill="#111" stroke="#111" text-anchor="middle">30</text>
<text x="541.70" y="290.60" font-size="10.2" fill="#111" stroke="#111" text-anchor="middle">40</text>
<text x="576.60" y="290.60" font-size="10.2" fill="#111" stroke="#111" text-anchor="middle">50</text>
<text x="611.50" y="290.60" font-size="10.2" fill="#111" stroke="#111" text-anchor="middle">60</text>
<text x="646.40" y="290.60" font-size="10.2" fill="#111" stroke="#111" text-anchor="middle">70</text>
<text x="681.30" y="290.60" font-size="10.2" fill="#111" stroke="#111" text-anchor="middle">80</text>
<text x="716.20" y="290.60" font-size="10.2" fill="#111" stroke="#111" text-anchor="middle">90</text>
<text x="751.10" y="290.60" font-size="10.2" fill="#111" stroke="#111" text-anchor="middle">100</text>
<text x="463.80" y="6.50" font-size="8.8" fill="#222" stroke="#222" text-anchor="middle">Yield = 15%</text>
<text x="513.90" y="6.50" font-size="8.8" fill="#222" stroke="#222" text-anchor="middle">30%</text>
<text x="564.00" y="6.50" font-size="8.8" fill="#222" stroke="#222" text-anchor="middle">45%</text>
<text x="616.30" y="6.50" font-size="8.8" fill="#222" stroke="#222" text-anchor="middle">60%</text>
<text x="666.00" y="6.50" font-size="8.8" fill="#222" stroke="#222" text-anchor="middle">75%</text>
<text x="716.80" y="6.50" font-size="8.8" fill="#222" stroke="#222" text-anchor="middle">90%</text>
<text x="561.00" y="309.20" font-size="11" fill="#111" stroke="#111" textLength="80.00" lengthAdjust="spacingAndGlyphs">Conversion [%]</text>
<text x="426.60" y="215.10" font-size="10.8" fill="#111" stroke="#111" textLength="142.90" lengthAdjust="spacingAndGlyphs" transform="rotate(-90 426.60 215.10)">Dehydration Selectivity [%]</text>
<text x="401.60" y="20.20" font-size="12.4" fill="#111" stroke="#111" font-weight="bold" textLength="16.30" lengthAdjust="spacingAndGlyphs">(b)</text>
<text x="483.60" y="266.30" font-size="10.5" fill="#111" stroke="#111" textLength="45.00" lengthAdjust="spacingAndGlyphs">Literature</text>
<text x="582.70" y="266.30" font-size="10.5" fill="#111" stroke="#111" textLength="45.20" lengthAdjust="spacingAndGlyphs">This work</text>
</svg>
</body></html>
